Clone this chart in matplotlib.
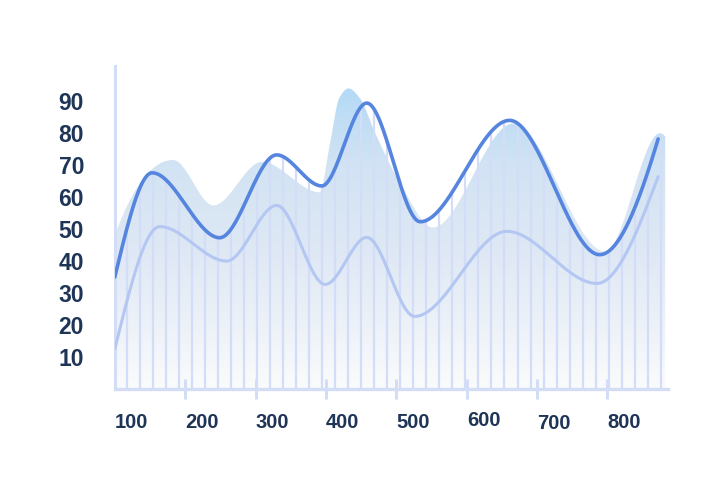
import numpy as np
import matplotlib
matplotlib.use("Agg")
import matplotlib.pyplot as plt
from matplotlib.patches import Polygon
from matplotlib.transforms import offset_copy

# knots of the smoothed series (x in axis units)
dark_x = [76, 129, 225, 306, 370, 434, 510, 637, 765, 848]
dark_y = [35, 67.6, 47.3, 73.2, 63.5, 89.4, 52.3, 84, 42, 78.2]
light_x = [76, 140, 235, 306, 375, 434, 502, 633, 761, 848]
light_y = [12.5, 50.8, 40, 57.4, 32.7, 47.4, 22.7, 49.3, 33, 66.4]
area_x = [76, 159, 216, 285, 367, 382, 395, 408, 424, 446, 481, 528, 642, 773, 851, 858]
area_y = [48, 71.6, 57.4, 71, 61.5, 77, 91, 94, 91, 80, 64.5, 50.5, 83, 43, 80, 79]

x_labels = [100, 200, 300, 400, 500, 600, 700, 800]
x_label_nudge = [0, 0, 0, 0, 0, 1.7, -0.7, 0]   # px, the labels are a bit uneven
x_ticks = [176, 276, 376, 476, 576, 676, 776]
y_ticks = [10, 20, 30, 40, 50, 60, 70, 80, 90]

text_col = "#1f3557"
axis_col = "#d3ddf6"
dark_col = "#5585df"
light_col = "#b3c7f2"


def smooth(xk, yk, xs):
    """monotone cubic (Fritsch-Carlson), like a 'smooth' line option"""
    xk = np.asarray(xk, float)
    yk = np.asarray(yk, float)
    h = np.diff(xk)
    d = np.diff(yk) / h
    n = len(xk)
    m = np.zeros(n)
    for k in range(1, n - 1):
        if d[k - 1] * d[k] > 0:
            w1 = 2 * h[k] + h[k - 1]
            w2 = h[k] + 2 * h[k - 1]
            m[k] = (w1 + w2) / (w1 / d[k - 1] + w2 / d[k])

    def end(h0, h1, d0, d1):
        s = ((2 * h0 + h1) * d0 - h0 * d1) / (h0 + h1)
        if np.sign(s) != np.sign(d0):
            return 0.0
        if np.sign(d0) != np.sign(d1) and abs(s) > abs(3 * d0):
            return 3 * d0
        return s

    m[0] = end(h[0], h[1], d[0], d[1])
    m[-1] = end(h[-1], h[-2], d[-1], d[-2])
    idx = np.clip(np.searchsorted(xk, xs) - 1, 0, n - 2)
    t = (xs - xk[idx]) / h[idx]
    h00 = 2 * t**3 - 3 * t**2 + 1
    h10 = t**3 - 2 * t**2 + t
    h01 = -2 * t**3 + 3 * t**2
    h11 = t**3 - t**2
    return (h00 * yk[idx] + h10 * h[idx] * m[idx]
            + h01 * yk[idx + 1] + h11 * h[idx] * m[idx + 1])


fig = plt.figure(figsize=(7.28, 4.86), dpi=100)
ax = fig.add_axes([115 / 728, 1 - 389 / 486, 553 / 728, 323 / 486])
x_lo, x_hi, y_hi = 76.3, 862, 101

# gradient area: saturated blue on top, greyish blue in the middle, white at the base
ax_s = np.linspace(area_x[0], area_x[-1], 800)
ay_s = smooth(area_x, area_y, ax_s)
area_poly = Polygon(np.column_stack([np.r_[ax_s, ax_s[-1], ax_s[0]],
                                     np.r_[ay_s, 0, 0]]),
                    closed=True, transform=ax.transData)
stop_v = [0, 40, 70, 94, 101]
stop_rgb = np.array([[250, 251, 252], [224, 233, 245], [210, 227, 243],
                     [180, 218, 246], [178, 217, 246]]) / 255
vv = np.linspace(y_hi, 0, 400)
grad = np.column_stack([np.interp(vv, stop_v, stop_rgb[:, c]) for c in range(3)])
grad = grad[:, None, :].repeat(2, axis=1)
im = ax.imshow(grad, extent=[x_lo, x_hi, 0, y_hi], aspect="auto",
               origin="upper", zorder=1, interpolation="bilinear")
im.set_clip_path(area_poly)

# thin stems, cut off at the dark line
dx_s = np.linspace(dark_x[0], dark_x[-1], 600)
dy_s = smooth(dark_x, dark_y, dx_s)
stem_x = 92.9 + 18.51 * np.arange(42)
under_dark = Polygon(np.column_stack([np.r_[dx_s, x_hi, x_hi, dx_s[0]],
                                      np.r_[dy_s, dy_s[-1], 0, 0]]),
                     closed=True, transform=ax.transData)
stems = ax.vlines(stem_x, 0, y_hi, colors="#d3ddf7", linewidth=1.6, zorder=2)
stems.set_clip_path(under_dark)

lx_s = np.linspace(light_x[0], light_x[-1], 600)
ly_s = smooth(light_x, light_y, lx_s)
ax.plot(lx_s, ly_s, color=light_col, lw=2.2, solid_capstyle="round", zorder=3)
ax.plot(dx_s, dy_s, color=dark_col, lw=2.6, solid_capstyle="round", zorder=4)

ax.set_xlim(x_lo, x_hi)
ax.set_ylim(0, y_hi)
for s in ["top", "right"]:
    ax.spines[s].set_visible(False)
ax.spines["left"].set_color(axis_col)
ax.spines["left"].set_linewidth(2.2)
ax.spines["bottom"].set_color(axis_col)
ax.spines["bottom"].set_linewidth(2.4)

ax.set_xticks(x_ticks)
ax.set_xticklabels([])
ax.tick_params(axis="x", direction="inout", length=13.7, width=2.2,
               color=axis_col)
ax.set_yticks(y_ticks)
ax.set_yticklabels([str(v) for v in y_ticks], fontsize=16.5,
                   fontweight="bold", color=text_col, family="Liberation Sans")
ax.tick_params(axis="y", length=0, pad=22.3)

for lab, nud in zip(x_labels, x_label_nudge):
    tr = offset_copy(ax.transData, fig=fig, x=0, y=-33.5 + nud, units="dots")
    ax.text(lab, 0, str(lab), transform=tr, ha="center", va="center",
            fontsize=14.5, fontweight="bold", color=text_col,
            family="Liberation Sans")

fig.savefig("out.png", dpi=100)
